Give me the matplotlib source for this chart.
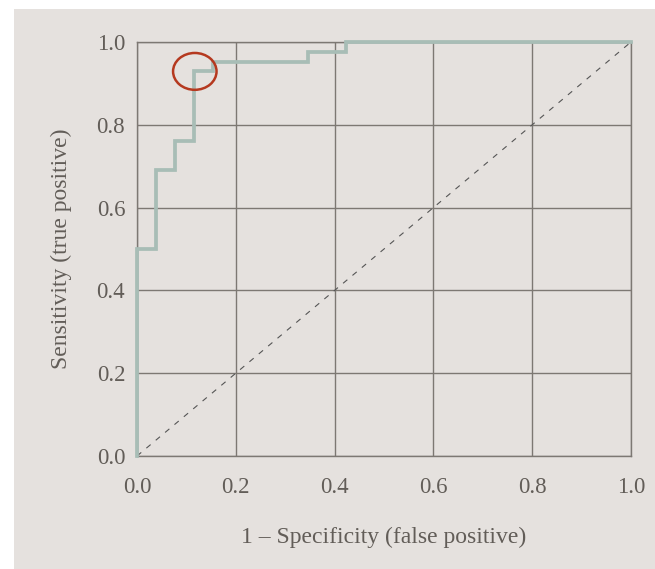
# roc curve, step style
import matplotlib
matplotlib.use("Agg")
import matplotlib.pyplot as plt
from matplotlib.patches import Ellipse, Rectangle

# fpr / tpr of the step curve
fpr = [0.0, 0.0, 0.0385, 0.0385, 0.077, 0.077, 0.115, 0.115, 0.154, 0.154,
       0.346, 0.346, 0.423, 0.423, 1.0]
tpr = [0.0, 0.5, 0.5, 0.69, 0.69, 0.762, 0.762, 0.929, 0.929, 0.952,
       0.952, 0.976, 0.976, 1.0, 1.0]
cut_point = (0.117, 0.929)
ticks = [0.0, 0.2, 0.4, 0.6, 0.8, 1.0]
tick_labels = ["0.0", "0.2", "0.4", "0.6", "0.8", "1.0"]

bg = "#e5e1de"
grid_c = "#7d7873"
txt_c = "#625d58"
plt.rcParams["font.family"] = ["Liberation Serif", "DejaVu Serif"]

fig = plt.figure(figsize=(6.55, 5.69), dpi=100, facecolor="white")
panel = Rectangle((14 / 655, 0), 1 - 14 / 655, 1 - 9 / 569,
                  transform=fig.transFigure, facecolor=bg,
                  edgecolor="none", zorder=-10)
fig.add_artist(panel)
ax = fig.add_axes([137 / 655, 113 / 569, 494 / 655, 414 / 569])
ax.set_zorder(5)
ax.set_facecolor(bg)

ax.plot([0, 1], [0, 1], ls=(0, (5, 6)), color="#555", lw=0.8, zorder=2)
ax.plot(fpr, tpr, color="#a8bdb6", lw=2.7, solid_joinstyle="miter", zorder=3, clip_on=False)
ax.add_patch(Ellipse(cut_point, 0.088, 0.089, fill=False, edgecolor="#b5391f",
                     lw=1.8, zorder=4))

ax.set_xlim(0, 1)
ax.set_ylim(0, 1)
ax.set_xticks(ticks)
ax.set_xticklabels(tick_labels)
ax.set_yticks(ticks)
ax.set_yticklabels(tick_labels)
ax.grid(True, color=grid_c, lw=1)
ax.set_axisbelow(True)
for s in ax.spines.values():
    s.set_color(grid_c)
    s.set_linewidth(1)
ax.tick_params(length=0, labelsize=16.5, labelcolor=txt_c)
ax.tick_params(axis="x", pad=15)
ax.tick_params(axis="y", pad=8.5)
ax.set_xlabel("1 \u2013 Specificity (false positive)", fontsize=17, color=txt_c, labelpad=21)
ax.set_ylabel("Sensitivity (true positive)", fontsize=17, color=txt_c, labelpad=18)

fig.savefig("out.png", dpi=100)
